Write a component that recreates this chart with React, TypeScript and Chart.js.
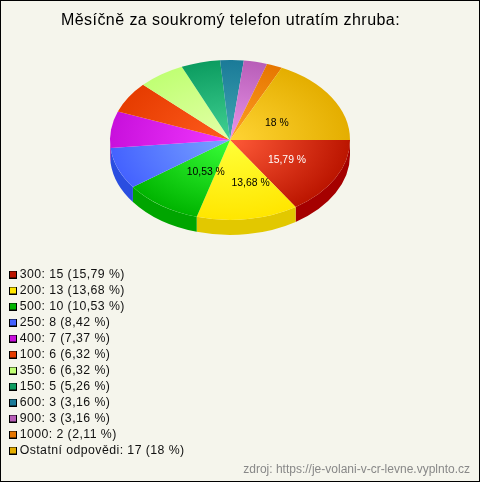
import React, { useEffect, useRef } from "react";
import { Chart, registerables } from "chart.js";

Chart.register(...registerables);

const TITLE = "Měsíčně za soukromý telefon utratím zhruba:";
const SOURCE = "zdroj: https://je-volani-v-cr-levne.vyplnto.cz";
const categories = ["300", "200", "500", "250", "400", "100", "350", "150", "600", "900", "1000", "Ostatní odpovědi"];
const counts = [15, 13, 10, 8, 7, 6, 6, 5, 3, 3, 2, 17];
const percentLabels = ["15,79", "13,68", "10,53", "8,42", "7,37", "6,32", "6,32", "5,26", "3,16", "3,16", "2,11", "18"];
const sliceLabelShown = [true, true, true, false, false, false, false, false, false, false, false, true];
const lightColors = ["#ff5a38", "#ffff38", "#38ff38", "#7aa4ff", "#f238ff", "#ff5c1e", "#e4ffa8", "#42d294", "#42a8b4", "#ea94ea", "#ffa024", "#ffd434"];
const darkColors = ["#bb1500", "#ffe600", "#00b400", "#4462ff", "#c810dc", "#e63c00", "#c0ff74", "#0c9c60", "#1a7a98", "#b85eb8", "#e67600", "#e4ae00"];
const wallColors = ["#a50000", "#e2c800", "#00a500", "#2a4ee0", "#a00cb0", "#b83000", "#98cc5c", "#0a7c4c", "#146078", "#934b93", "#b85e00", "#b68b00"];

const BG = "#f5f5ec";
const CX = 230;
const CY = 140;
const R = 120;
const TILT = 2 / 3;
const DEPTH = 15;
const LEGEND_FONT = 12.3;
const LEGEND_PAD = 3.7;
const labelOffsets: Record<number, [number, number]> = { 0: [0, 0], 1: [11, 0], 2: [13, -3], 11: [-8, 6] };

const swatch = (color: string) => {
  const c = document.createElement("canvas");
  c.width = 8;
  c.height = 8;
  const x = c.getContext("2d")!;
  x.fillStyle = "#000";
  x.fillRect(0, 0, 8, 8);
  x.fillStyle = color;
  x.fillRect(1, 1, 6, 6);
  return c;
};

const tiltPlugin = {
  id: "tilt",
  beforeDraw(chart: any) {
    chart.ctx.letterSpacing = "0.44px";
  },
  afterLayout(chart: any) {
    const legend = chart.legend;
    const h = legend.bottom - legend.top;
    legend.left = 12.5 - LEGEND_PAD;
    legend.top = 274.5 - LEGEND_FONT / 2 - LEGEND_PAD;
    legend.bottom = legend.top + h;
  },
  beforeDatasetsDraw(chart: any) {
    const ctx = chart.ctx;
    const arcs = chart.getDatasetMeta(0).data;
    arcs.forEach((arc: any, i: number) => {
      const a = Math.max(arc.startAngle, 0);
      const b = Math.min(arc.endAngle, Math.PI);
      if (b <= a) return;
      ctx.beginPath();
      ctx.ellipse(CX, CY, R, R * TILT, 0, a, b);
      ctx.ellipse(CX, CY + DEPTH, R, R * TILT, 0, b, a, true);
      ctx.closePath();
      ctx.fillStyle = wallColors[i];
      ctx.fill();
    });
    const { x, y } = arcs[0];
    ctx.save();
    ctx.translate(CX, CY);
    ctx.scale(1, TILT);
    ctx.translate(-x, -y);
  },
  afterDatasetsDraw(chart: any) {
    const ctx = chart.ctx;
    ctx.restore();
    const arcs = chart.getDatasetMeta(0).data;
    ctx.save();
    ctx.letterSpacing = "0px";
    ctx.font = "10.4px 'Liberation Sans'";
    ctx.textAlign = "center";
    ctx.textBaseline = "middle";
    arcs.forEach((arc: any, i: number) => {
      if (!sliceLabelShown[i]) return;
      const mid = (arc.startAngle + arc.endAngle) / 2;
      const [dx, dy] = labelOffsets[i] || [0, 0];
      ctx.fillStyle = i === 0 ? "#fff" : "#000";
      ctx.fillText(
        `${percentLabels[i]} %`,
        CX + R * 0.54 * Math.cos(mid) + dx,
        CY + R * 0.54 * TILT * Math.sin(mid) + dy,
      );
    });
    ctx.font = "12px 'Liberation Sans'";
    ctx.fillStyle = "#888";
    ctx.textAlign = "right";
    ctx.fillText(SOURCE, 470, 470);
    ctx.restore();
  },
};

export default function App() {
  const ref = useRef<HTMLCanvasElement>(null);
  useEffect(() => {
    const chart = new Chart(ref.current!, {
      type: "pie",
      plugins: [tiltPlugin],
      data: {
        labels: categories,
        datasets: [
          {
            data: counts,
            clip: false,
            borderWidth: 0,
            backgroundColor: (c: any) => {
              const area = c.chart.chartArea;
              if (!area) return darkColors[c.dataIndex];
              const x = (area.left + area.right) / 2;
              const y = (area.top + area.bottom) / 2;
              const g = c.chart.ctx.createRadialGradient(x, y, 0, x, y, R);
              g.addColorStop(0, lightColors[c.dataIndex]);
              g.addColorStop(1, darkColors[c.dataIndex]);
              return g;
            },
          } as any,
        ],
      },
      options: {
        responsive: false,
        animation: false,
        events: [],
        rotation: 90,
        radius: R,
        layout: { padding: { left: 0, right: 19, top: 0, bottom: 23 } },
        plugins: {
          tooltip: { enabled: false },
          title: {
            display: true,
            text: TITLE,
            color: "#000",
            font: { family: "'Liberation Sans'", size: 16, weight: "normal" },
            padding: { top: 11, bottom: 10 },
          },
          legend: {
            position: "chartArea",
            align: "start",
            labels: {
              usePointStyle: true,
              pointStyleWidth: 1,
              boxHeight: 8,
              padding: LEGEND_PAD,
              color: "#111",
              font: { family: "'Liberation Sans'", size: LEGEND_FONT },
              generateLabels: () =>
                categories.map((name, i) => ({
                  text: `${name}: ${counts[i]} (${percentLabels[i]} %)`,
                  pointStyle: swatch(darkColors[i]),
                  fontColor: "#111",
                  hidden: false,
                  index: i,
                })),
            },
          },
        },
      } as any,
    });
    return () => chart.destroy();
  }, []);
  return (
    <div style={{ position: "absolute", left: 0, top: 0, width: 480, height: 482 }}>
      <canvas
        ref={ref}
        width={480}
        height={482}
        style={{ display: "block", width: 480, height: 482, background: BG, outline: "1px solid #000", outlineOffset: -1 }}
      />
    </div>
  );
}
